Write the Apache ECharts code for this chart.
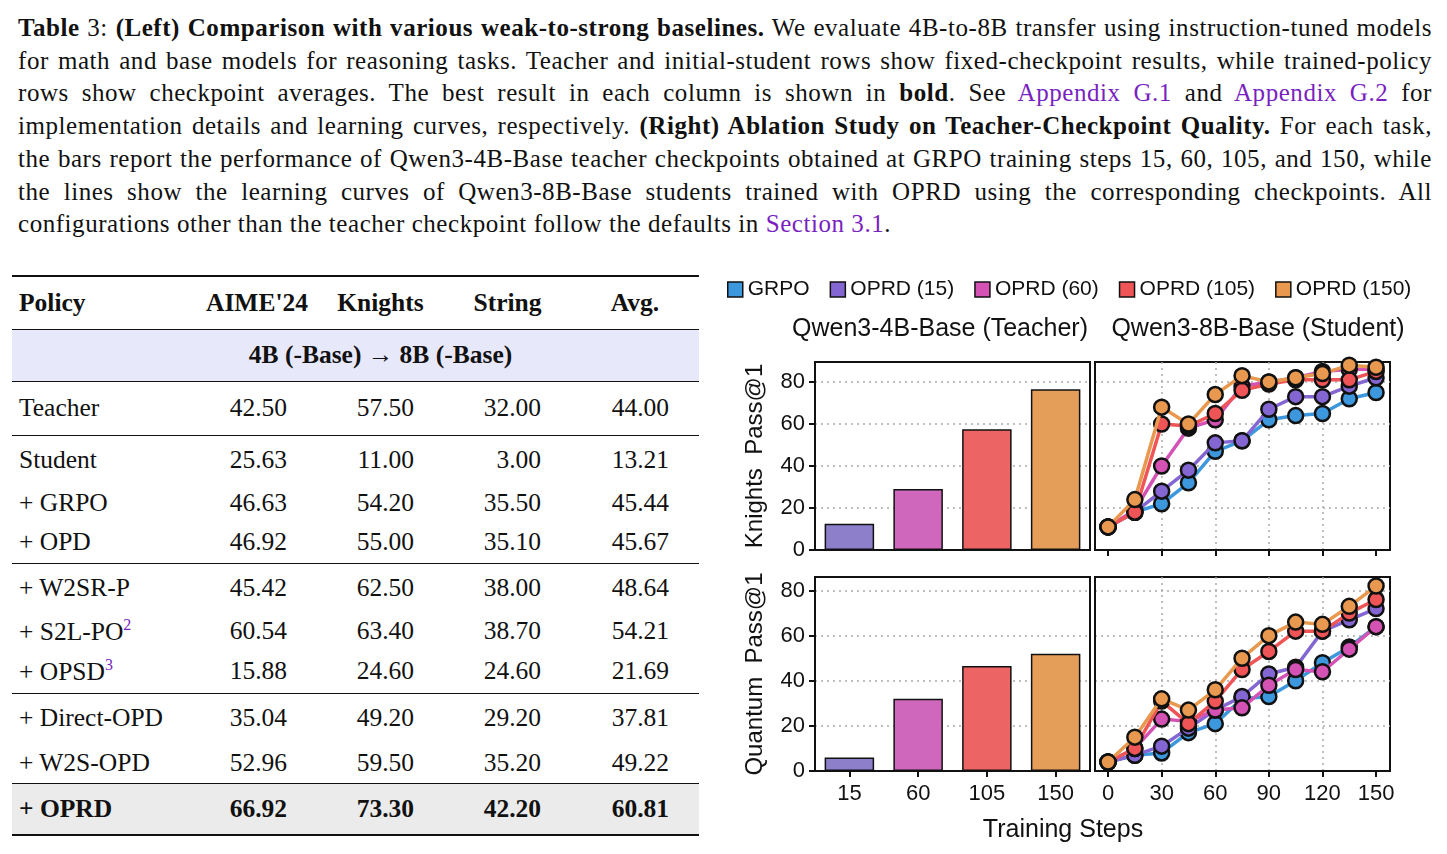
<!DOCTYPE html>
<html><head><meta charset="utf-8">
<script src="https://cdn.jsdelivr.net/npm/echarts@6/dist/echarts.min.js"></script>
<style>
body{margin:0;width:1447px;height:854px;background:#fff;position:relative;overflow:hidden;font-family:"Liberation Serif","DejaVu Serif",serif;color:#111}
#cap{position:absolute;left:18px;top:12px;width:1414px;font-size:25px;letter-spacing:0.55px;line-height:32.7px;text-align:justify}
#cap a{color:#7a1fc0;text-decoration:none}
#tbl{position:absolute;left:12px;top:275px;border-collapse:collapse;font-size:25.5px}
#tbl td,#tbl th{padding:0;vertical-align:middle}
#tbl th{font-weight:bold;text-align:center}
#tbl td.n{text-align:right;padding-right:30px}
#chart{position:absolute;left:700px;top:258px;width:747px;height:596px}
</style></head><body>
<div id="cap"><b>Table</b> 3: <b>(Left) Comparison with various weak-to-strong baselines.</b> We evaluate 4B-to-8B transfer using instruction-tuned models for math and base models for reasoning tasks. Teacher and initial-student rows show fixed-checkpoint results, while trained-policy rows show checkpoint averages. The best result in each column is shown in <b>bold</b>. See <a>Appendix G.1</a> and <a>Appendix G.2</a> for implementation details and learning curves, respectively. <b>(Right) Ablation Study on Teacher-Checkpoint Quality.</b> For each task, the bars report the performance of Qwen3-4B-Base teacher checkpoints obtained at GRPO training steps 15, 60, 105, and 150, while the lines show the learning curves of Qwen3-8B-Base students trained with OPRD using the corresponding checkpoints. All configurations other than the teacher checkpoint follow the defaults in <a>Section 3.1</a>.</div>
<table id="tbl"></table>
<div id="chart"></div>
<script>
// ---- table data ----
var tableHeader = ['Policy', "AIME'24", 'Knights', 'String', 'Avg.'];
var tableRows = [
  ['Teacher', '42.50', '57.50', '32.00', '44.00'],
  ['Student', '25.63', '11.00', '3.00', '13.21'],
  ['+ GRPO', '46.63', '54.20', '35.50', '45.44'],
  ['+ OPD', '46.92', '55.00', '35.10', '45.67'],
  ['+ W2SR-P', '45.42', '62.50', '38.00', '48.64'],
  ['+ S2L-PO<sup style="color:#7a1fc0;font-size:16px">2</sup>', '60.54', '63.40', '38.70', '54.21'],
  ['+ OPSD<sup style="color:#7a1fc0;font-size:16px">3</sup>', '15.88', '24.60', '24.60', '21.69'],
  ['+ Direct-OPD', '35.04', '49.20', '29.20', '37.81'],
  ['+ W2S-OPD', '52.96', '59.50', '35.20', '49.22'],
  ['+ OPRD', '66.92', '73.30', '42.20', '60.81']
];
var rowHeights = [54, 50, 36, 42, 50, 36, 44, 50, 40, 52];
var ruleAfter = [0, 3, 6, 8];

var colW = [178, 120, 127, 127, 128];
var html = '<tr style="height:53px;border-top:2.5px solid #111;border-bottom:1.5px solid #111">';
tableHeader.forEach(function (h, i) {
  html += '<th style="width:' + colW[i] + 'px;' + (i === 0 ? 'text-align:left;padding-left:7px' : '') + '">' + h + '</th>';
});
html += '</tr><tr style="height:52px;border-bottom:1.5px solid #111"><td colspan="5" style="background:#e8e8fb;text-align:center;padding-left:50px;font-weight:bold">4B (-Base) &rarr; 8B (-Base)</td></tr>';
tableRows.forEach(function (r, k) {
  var last = k === tableRows.length - 1;
  var st = 'height:' + rowHeights[k] + 'px;';
  if (ruleAfter.indexOf(k) >= 0) st += 'border-bottom:1.5px solid #111;';
  if (last) st += 'background:#ebebeb;font-weight:bold;border-bottom:2.5px solid #111;';
  html += '<tr style="' + st + '">';
  r.forEach(function (c, i) {
    html += i === 0 ? '<td style="padding-left:7px">' + c + '</td>' : '<td class="n">' + c + '</td>';
  });
  html += '</tr>';
});
document.getElementById('tbl').innerHTML = html;

// ---- chart data ----
var ckpts = ['15', '60', '105', '150'];
var steps = [0, 15, 30, 45, 60, 75, 90, 105, 120, 135, 150];
var names = ['GRPO', 'OPRD (15)', 'OPRD (60)', 'OPRD (105)', 'OPRD (150)'];
var colors = ['#3d97dc', '#8466d2', '#d452b4', '#ef5456', '#e8994f'];
var barColors = ['#8e7fcb', '#cf68bd', '#ec6464', '#e59d5a'];
var knightsTeacher = [12.5, 29, 57.5, 76.5];
var quantumTeacher = [6, 32, 46.5, 52];
var knightsStudent = [
  [11, 18, 22, 32, 47, 52, 62, 64, 65, 72, 75],
  [11, 18, 28, 38, 51, 52, 67, 73, 73, 78, 82],
  [11, 19, 40, 58, 62, 78, 80, 82, 85, 86, 86],
  [11, 18, 60, 59, 65, 76, 79, 81, 81, 81, 85],
  [11, 24, 68, 60, 74, 83, 80, 82, 84, 88, 87]
];
var quantumStudent = [
  [4, 7, 8, 17, 21, 32, 33, 40, 48, 55, 64],
  [4, 7, 11, 19, 27, 33, 43, 46, 62, 67, 72],
  [4, 10, 23, 22, 27, 28, 38, 45, 44, 54, 64],
  [4, 10, 31, 21, 31, 45, 53, 62, 62, 70, 76],
  [4, 15, 32, 27, 36, 50, 60, 66, 65, 73, 82]
];

var F = 'Liberation Sans, Arial, sans-serif';
var dotted = {show: true, showMinLine: false, showMaxLine: false, lineStyle: {type: [2, 4], color: '#aaa', width: 1.5}};
var axLine = {show: true, onZero: false, lineStyle: {color: '#111', width: 2}};
var grids = [
  {left: 115, top: 104, width: 275, height: 188},
  {left: 395, top: 104, width: 295, height: 188},
  {left: 115, top: 319, width: 275, height: 194},
  {left: 395, top: 319, width: 295, height: 194}
].map(function (g) { return Object.assign({show: true, borderColor: '#111', borderWidth: 2, backgroundColor: '#fff'}, g); });

function yAx(gi, max, show) {
  return {type: 'value', gridIndex: gi, min: 0, max: max, interval: 20,
    axisLine: axLine, axisTick: {show: show, length: 6, lineStyle: {width: 2, color: '#111'}},
    axisLabel: {show: show, fontSize: 22, color: '#111', fontFamily: F, margin: 10, showMaxLabel: false},
    splitLine: dotted};
}
function xBar(gi, show) {
  return {type: 'category', gridIndex: gi, data: ckpts, boundaryGap: true,
    axisLine: axLine, axisTick: {show: show, alignWithLabel: true, length: 6, lineStyle: {width: 2, color: '#111'}},
    axisLabel: {show: show, fontSize: 22, color: '#111', fontFamily: F, margin: 12},
    splitLine: {show: false}};
}
function xLine(gi, show) {
  return {type: 'value', gridIndex: gi, min: -7.3, max: 157.8,
    axisLine: axLine,
    axisTick: {show: true, length: 6, customValues: [0, 30, 60, 90, 120, 150], lineStyle: {width: 2, color: '#111'}},
    axisLabel: {show: show, fontSize: 22, color: '#111', fontFamily: F, margin: 12, customValues: [0, 30, 60, 90, 120, 150]},
    splitLine: {show: true, showMinLine: false, showMaxLine: false, lineStyle: {type: [2, 4], color: '#aaa', width: 1.5}}};
}

var series = [];
[knightsTeacher, quantumTeacher].forEach(function (d, k) {
  series.push({type: 'bar', xAxisIndex: k * 2, yAxisIndex: k * 2, barWidth: '72%',
    data: d.map(function (v, i) { return {value: v, itemStyle: {color: barColors[i]}}; }),
    itemStyle: {borderColor: '#111', borderWidth: 1.5}, silent: true});
});
[knightsStudent, quantumStudent].forEach(function (set, k) {
  set.forEach(function (vals, s) {
    series.push({type: 'line', name: names[s], xAxisIndex: k * 2 + 1, yAxisIndex: k * 2 + 1,
      data: vals.map(function (v, i) { return [steps[i], v]; }),
      symbol: 'circle', symbolSize: 15, z: 3 + s,
      lineStyle: {color: colors[s], width: 3.5},
      itemStyle: {color: colors[s], borderColor: '#111', borderWidth: 2.5}});
  });
});
names.forEach(function (n, s) {
  series.push({type: 'line', name: n, xAxisIndex: 1, yAxisIndex: 1, data: [], itemStyle: {color: colors[s]}});
});

var chart = echarts.init(document.getElementById('chart'));
chart.setOption({
  animation: false,
  textStyle: {fontFamily: F},
  legend: {top: 16, left: 22, itemWidth: 15, itemHeight: 15, itemGap: 20, icon: 'rect',
    data: names.map(function (n, s) { return {name: n, itemStyle: {color: colors[s], borderColor: '#111', borderWidth: 1.5}}; }),
    textStyle: {fontSize: 21, color: '#111', fontFamily: F}},
  title: [
    {text: 'Qwen3-4B-Base (Teacher)', left: 235, top: 54, textAlign: 'center', textStyle: {fontSize: 25, fontWeight: 'normal', color: '#111', fontFamily: F}},
    {text: 'Qwen3-8B-Base (Student)', left: 553, top: 54, textAlign: 'center', textStyle: {fontSize: 25, fontWeight: 'normal', color: '#111', fontFamily: F}},
    {text: 'Training Steps', left: 358, top: 555, textAlign: 'center', textStyle: {fontSize: 25, fontWeight: 'normal', color: '#111', fontFamily: F}}
  ],
  grid: grids,
  xAxis: [xBar(0, false), xLine(1, false), xBar(2, true), xLine(3, true)],
  yAxis: [
    Object.assign(yAx(0, 89.5, true), {name: 'Knights  Pass@1', nameLocation: 'middle', nameGap: 48, nameTextStyle: {fontSize: 24, color: '#111'}}),
    yAx(1, 89.5, false),
    Object.assign(yAx(2, 86, true), {name: 'Quantum  Pass@1', nameLocation: 'middle', nameGap: 48, nameTextStyle: {fontSize: 24, color: '#111'}}),
    yAx(3, 86, false)
  ],
  series: series
});
</script>
</body></html>
